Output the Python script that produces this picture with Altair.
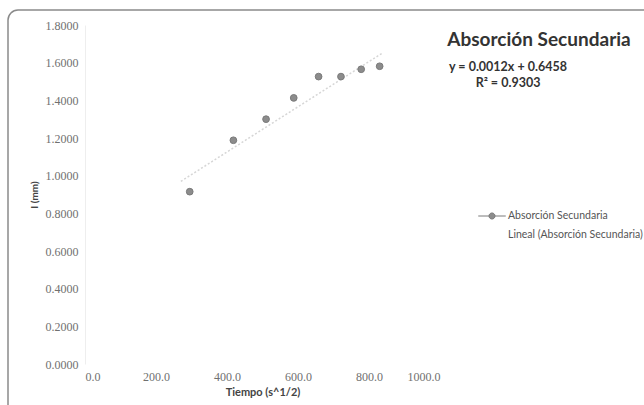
import altair as alt
import pandas as pd

# ---- data ----
tiempo = [295, 418, 510, 588, 658, 721, 778, 830]
absorcion = [0.915, 1.188, 1.300, 1.413, 1.526, 1.526, 1.565, 1.581]
slope = 0.0012
intercept = 0.6458
r2 = 0.9303
series_name = "Absorción Secundaria"
trend_name = "Lineal (Absorción Secundaria)"
chart_title = "Absorción Secundaria"
x_title = "Tiempo (s^1/2)"
y_title = "I (mm)"
x_ticks = [0, 200, 400, 600, 800, 1000]
y_ticks = [0.0, 0.2, 0.4, 0.6, 0.8, 1.0, 1.2, 1.4, 1.6, 1.8]
trend_range = [270, 840]

pts_df = pd.DataFrame({"tiempo": tiempo, "absorcion": absorcion, "serie": series_name})
trend_df = pd.DataFrame({"tiempo": trend_range,
                         "absorcion": [slope * v + intercept for v in trend_range]})
one = pd.DataFrame({"k": [0]})

W, H = 355, 339
LEFT, TOP = 85, 25

serif = "Liberation Serif"
sans = "Lato"

x_enc = alt.X("tiempo:Q",
              scale=alt.Scale(domain=[0, 1000], nice=False, zero=True),
              axis=alt.Axis(values=x_ticks, format=".1f", title=x_title,
                            labelFont=serif, labelFontSize=12, labelColor="#707070",
                            labelPadding=7, ticks=False, domain=False, grid=False,
                            titleFont=sans, titleFontSize=11, titleFontWeight="bold",
                            titleColor="#444444", titlePadding=4))
y_enc = alt.Y("absorcion:Q",
              scale=alt.Scale(domain=[0, 1.8], nice=False, zero=True),
              axis=alt.Axis(values=y_ticks, format=".4f", title=y_title,
                            labelFont=serif, labelFontSize=12, labelColor="#707070",
                            labelPadding=7, ticks=False, domain=True, domainColor="#eeeeee",
                            grid=False,
                            titleFont=sans, titleFontSize=10, titleFontWeight="bold",
                            titleColor="#444444", titlePadding=6))

legend_symbol = ("M-2.5,0H-0.55M0.55,0H2.5"
                 "M-0.55,0A0.55,0.55,0,1,0,0.55,0A0.55,0.55,0,1,0,-0.55,0Z")
leg = alt.Legend(orient="none", legendX=401, legendY=185, title=None,
                 symbolType=legend_symbol, symbolSize=121, symbolStrokeWidth=1,
                 labelFont=sans, labelFontSize=10.5, labelColor="#555555",
                 labelOffset=10, rowPadding=7)
dom = [series_name, trend_name]

frame = alt.Chart(one).mark_rect(fill=None, stroke="#8a8a8a", strokeWidth=1.5,
                                 cornerRadius=10).encode(
    x=alt.value(8 - LEFT), x2=alt.value(700),
    y=alt.value(10 - TOP), y2=alt.value(450))

trend = alt.Chart(trend_df).mark_line(color="#d6d6d6", strokeWidth=1.5,
                                      strokeDash=[2, 2]).encode(x=x_enc, y=y_enc)

points = alt.Chart(pts_df).mark_point(filled=True, size=45, opacity=1,
                                      strokeWidth=1).encode(
    x=x_enc, y=y_enc,
    fill=alt.Fill("serie:N", scale=alt.Scale(domain=dom, range=["#8c8c8c", "#ffffff"]),
                  legend=leg),
    stroke=alt.Stroke("serie:N", scale=alt.Scale(domain=dom, range=["#7a7a7a", "#ffffff"]),
                      legend=leg))

title_txt = alt.Chart(one).mark_text(font=sans, fontSize=19, fontWeight="bold",
                                     color="#333333", align="center",
                                     baseline="middle", text=chart_title).encode(
    x=alt.value(539 - LEFT), y=alt.value(40 - TOP))
eq_txt = alt.Chart(one).mark_text(font=sans, fontSize=12.5, fontWeight="bold",
                                  color="#333333", align="center", baseline="middle",
                                  text=f"y = {slope:.4f}x + {intercept:.4f}").encode(
    x=alt.value(508 - LEFT), y=alt.value(67 - TOP))
r2_txt = alt.Chart(one).mark_text(font=sans, fontSize=12.5, fontWeight="bold",
                                  color="#333333", align="center", baseline="middle",
                                  text=f"R² = {r2:.4f}").encode(
    x=alt.value(508 - LEFT), y=alt.value(83 - TOP))

chart = alt.layer(frame, trend, points, title_txt, eq_txt, r2_txt).properties(
    width=W, height=H,
    autosize=alt.AutoSizeParams(type="none"),
    padding={"left": LEFT, "top": TOP, "right": 644 - LEFT - W, "bottom": 405 - TOP - H},
    background="white",
).configure_view(stroke=None)

chart.save("out.html", embed_options={"renderer": "svg", "actions": False})
